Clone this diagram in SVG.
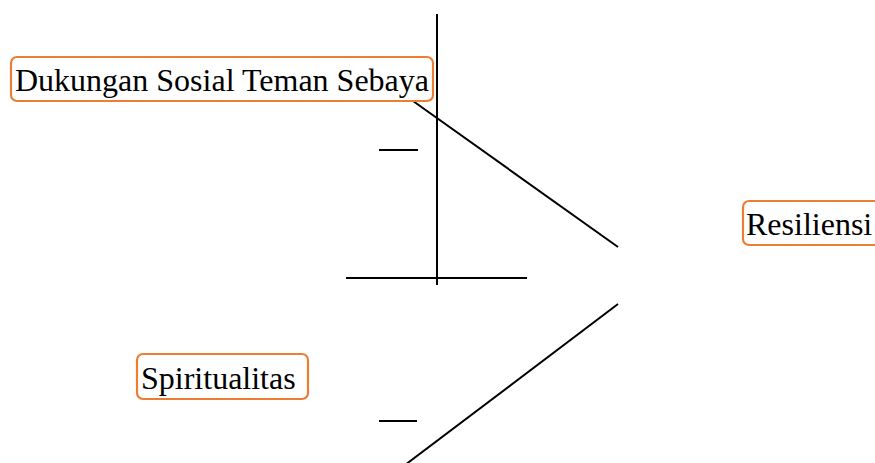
<svg xmlns="http://www.w3.org/2000/svg" width="875" height="463" viewBox="0 0 875 463">
<style>
.box{fill:#fff;stroke:#ed7d31;stroke-width:2.2}
.lbl{font-family:"Liberation Serif","Times New Roman",serif;font-size:32px;fill:#000}
.ln{stroke:#000;stroke-width:2;fill:none}
</style>
<rect width="875" height="463" fill="#fff"/>
<g id="connectors">
<line class="ln" x1="437" y1="14" x2="437" y2="285"/>
<line class="ln" x1="346" y1="278" x2="527" y2="278"/>
<line class="ln" x1="379" y1="150" x2="418" y2="150"/>
<line class="ln" x1="413" y1="101" x2="618" y2="247"/>
<line class="ln" x1="379" y1="421" x2="417" y2="421"/>
<line class="ln" x1="618" y1="304" x2="405" y2="465"/>
</g>
<g id="node-dukungan">
<rect class="box" x="11" y="57" width="422" height="44" rx="6"/>
<text class="lbl" x="15" y="91">Dukungan Sosial Teman Sebaya</text>
</g>
<g id="node-spiritualitas">
<rect class="box" x="137" y="354" width="171" height="45" rx="6"/>
<text class="lbl" x="141" y="389">Spiritualitas</text>
</g>
<g id="node-resiliensi">
<rect class="box" x="743" y="201" width="140" height="44" rx="6"/>
<text class="lbl" x="746" y="235">Resiliensi</text>
</g>
</svg>
